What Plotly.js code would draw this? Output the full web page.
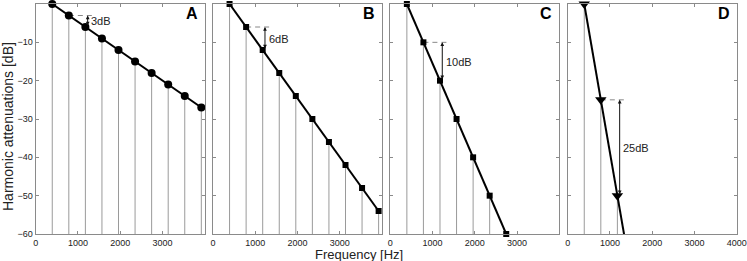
<!DOCTYPE html>
<html>
<head>
<meta charset="utf-8">
<script src="https://cdn.plot.ly/plotly-3.0.1.min.js"></script>
<style>html,body{margin:0;padding:0;background:#fff;}#chart{width:747px;height:261px;}</style>
</head>
<body>
<div id="chart"></div>
<script>
// ---- data ----
const freqA = [392, 784, 1176, 1568, 1960, 2352, 2744, 3136, 3528, 3920];
const attA  = [0, -3, -6, -9, -12, -15, -18, -21, -24, -27];
const freqB = [392, 784, 1176, 1568, 1960, 2352, 2744, 3136, 3528, 3920];
const attB  = [0, -6, -12, -18, -24, -30, -36, -42, -48, -54];
const freqC = [392, 784, 1176, 1568, 1960, 2352, 2744];
const attC  = [0, -10, -20, -30, -40, -50, -60];
const freqD = [392, 784, 1176, 1568];
const attD  = [0, -25, -50, -75];
const panelLetters = ['A', 'B', 'C', 'D'];
const stepLabels = ['3dB', '6dB', '10dB', '25dB'];
const xTickVals = [0, 1000, 2000, 3000];
const xTickValsD = [0, 1000, 2000, 3000, 4000];
const yTickVals = [0, -10, -20, -30, -40, -50, -60];
const yRange = [-60, 0];
const xRange = [0, 4000];
const xTitle = 'Frequency [Hz]';
const yTitle = 'Harmonic attenuations [dB]';

// ---- styling / layout ----
const FONT = 'Liberation Sans, Arial, Helvetica, sans-serif';
const W = 747, H = 261;
const ML = 35, MR = 10, MT = 4, MB = 27;
const PW = W - ML - MR, PH = H - MT - MB;
const panelStart = [35.7, 213.0, 390.3, 567.7];
const panelWidth = 169;
const frameColor = '#8a8a8a';
const stemColor = '#9a9a9a';

const panels = [
  {f: freqA, a: attA, symbol: 'circle', size: 8},
  {f: freqB, a: attB, symbol: 'square', size: 6},
  {f: freqC, a: attC, symbol: 'square', size: 6},
  {f: freqD, a: attD, symbol: 'triangle-down', size: 10}
];

const traces = [];
const layout = {
  width: W, height: H,
  margin: {l: ML, r: MR, t: MT, b: MB, pad: 0},
  paper_bgcolor: '#fff', plot_bgcolor: '#fff',
  showlegend: false,
  font: {family: FONT, size: 9, color: '#222'},
  annotations: [], shapes: []
};

panels.forEach((p, i) => {
  const n = i === 0 ? '' : String(i + 1);
  const xa = 'x' + n, ya = 'y' + n;
  const d0 = (panelStart[i] - ML) / PW;
  const d1 = (panelStart[i] + panelWidth - ML) / PW;
  layout['xaxis' + n] = {
    domain: [d0, Math.min(d1, 1)], range: xRange, anchor: ya,
    tickvals: i === 3 ? xTickValsD : xTickVals,
    ticktext: (i === 3 ? xTickValsD : xTickVals).map(String),
    ticks: 'inside', ticklen: 3, tickwidth: 1, tickcolor: frameColor,
    showline: true, linecolor: frameColor, linewidth: 1, mirror: 'ticks',
    showgrid: false, zeroline: false, fixedrange: true,
    tickfont: {family: FONT, size: 9, color: '#222'}
  };
  layout['yaxis' + n] = {
    domain: [0, 1], range: yRange, anchor: xa,
    tickvals: yTickVals,
    ticks: 'inside', ticklen: 3, tickwidth: 1, tickcolor: frameColor,
    showline: true, linecolor: frameColor, linewidth: 1, mirror: 'ticks',
    showgrid: false, zeroline: false, fixedrange: true,
    showticklabels: i === 0,
    tickfont: {family: FONT, size: 9, color: '#222'}
  };

  // stems from the bottom of the axis up to each harmonic
  const sx = [], sy = [];
  p.f.forEach((f, k) => {
    if (p.a[k] >= yRange[0]) { sx.push(f, f, null); sy.push(yRange[0], p.a[k], null); }
  });
  traces.push({x: sx, y: sy, xaxis: xa, yaxis: ya, mode: 'lines',
    line: {color: stemColor, width: 1}, hoverinfo: 'skip'});
  // envelope line
  traces.push({x: p.f, y: p.a, xaxis: xa, yaxis: ya, mode: 'lines',
    line: {color: '#000', width: 2}});
  // markers
  traces.push({x: p.f, y: p.a, xaxis: xa, yaxis: ya, mode: 'markers', cliponaxis: false,
    marker: {symbol: p.symbol, size: p.size, color: '#000'}});

  // step annotation between harmonic 2 and 3
  const hi = p.a[1], lo = p.a[2];
  const arrowX = 1230;
  layout.shapes.push({type: 'line', xref: xa, yref: ya, x0: p.f[1], x1: 1390, y0: hi, y1: hi,
    line: {color: '#888', width: 1, dash: '5px,4px'}, layer: 'below'});
  layout.annotations.push({xref: xa, yref: ya, axref: xa, ayref: ya,
    x: arrowX, y: hi, ax: arrowX, ay: lo, text: '', showarrow: true,
    arrowhead: 2, startarrowhead: 2, arrowside: 'end+start', arrowsize: 0.75, startarrowsize: 0.75,
    arrowwidth: 1, arrowcolor: '#111', standoff: 0, startstandoff: 0});
  layout.annotations.push({xref: xa, yref: ya, x: arrowX + 40, y: (hi + lo) / 2,
    text: stepLabels[i], showarrow: false, xanchor: 'left', yanchor: 'middle',
    font: {family: FONT, size: 11, color: '#222'}});
  // panel letter
  layout.annotations.push({xref: xa + ' domain', yref: ya + ' domain', x: 1, y: 1 - (13.3 - MT) / PH,
    xshift: -5, xanchor: 'right', yanchor: 'middle', showarrow: false,
    text: '<b>' + panelLetters[i] + '</b>', font: {family: FONT, size: 16, color: '#000'}});
});

// axis titles
layout.annotations.push({xref: 'paper', yref: 'paper', x: (359 - ML) / PW, y: -(255 - (H - MB)) / PH,
  xanchor: 'center', yanchor: 'middle', showarrow: false, text: xTitle,
  font: {family: FONT, size: 13, color: '#222'}});
layout.annotations.push({xref: 'paper', yref: 'paper', x: (8 - ML) / PW, y: ((H - MB) - 127) / PH,
  xanchor: 'center', yanchor: 'middle', showarrow: false, textangle: -90, text: yTitle,
  font: {family: FONT, size: 14, color: '#222'}});

Plotly.newPlot('chart', traces, layout, {staticPlot: true, displayModeBar: false});
</script>
</body>
</html>
